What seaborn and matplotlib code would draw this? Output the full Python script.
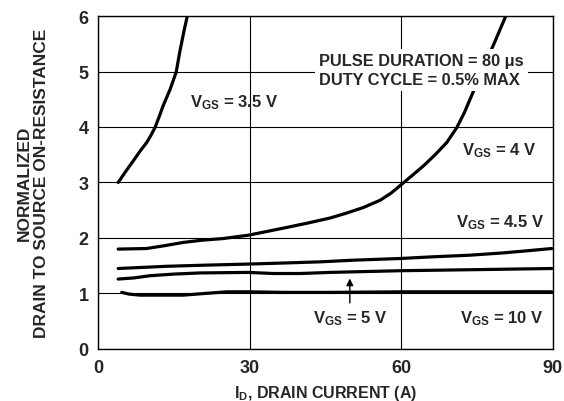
import numpy as np
import pandas as pd
import matplotlib
matplotlib.use("Agg")
import matplotlib.pyplot as plt
import seaborn as sns

# ---- data ----
id_35 = [3.9, 5.4, 6.9, 8.2, 9.55, 10.4, 11.2, 12.0, 12.8, 14.2, 15.4, 16.1, 16.9, 17.6]
rds_35 = [3.00, 3.20, 3.39, 3.56, 3.72, 3.85, 3.99, 4.18, 4.38, 4.68, 4.99, 5.35, 5.71, 6.00]

id_4 = [3.9, 9.5, 13.0, 16.8, 20.5, 24.7, 29.7, 33.5, 37.3, 41.5, 45.9, 49.2, 52.5, 55.8,
        58.0, 60.1, 62.2, 64.4, 66.7, 69.0, 71.0, 72.5, 73.9, 76.2, 78.6, 80.7]
rds_4 = [1.80, 1.81, 1.86, 1.92, 1.96, 1.99, 2.05, 2.12, 2.19, 2.27, 2.36, 2.45, 2.55, 2.68,
         2.81, 2.97, 3.13, 3.30, 3.50, 3.72, 3.99, 4.26, 4.56, 5.05, 5.55, 6.00]

id_45 = [3.9, 13.5, 21.0, 29.7, 37.0, 43.9, 50.5, 59.7, 66.0, 73.6, 80.0, 85.0, 89.8]
rds_45 = [1.45, 1.49, 1.51, 1.53, 1.55, 1.57, 1.60, 1.63, 1.66, 1.69, 1.73, 1.77, 1.81]

id_5 = [3.9, 7.0, 10.2, 15.0, 20.1, 29.7, 34.6, 40.0, 45.9, 59.7, 75.0, 89.8]
rds_5 = [1.26, 1.28, 1.32, 1.35, 1.37, 1.38, 1.36, 1.36, 1.38, 1.41, 1.43, 1.45]

id_10 = [4.6, 6.0, 8.2, 12.5, 16.8, 21.0, 25.4, 29.7, 37.0, 45.9, 60.0, 75.0, 89.8]
rds_10 = [1.02, 0.99, 0.97, 0.97, 0.97, 1.00, 1.03, 1.03, 1.02, 1.02, 1.03, 1.03, 1.03]

x_ticks = [0, 30, 60, 90]
y_ticks = [0, 1, 2, 3, 4, 5, 6]

sns.set_theme(style="white")
plt.rcParams['font.family'] = ['Liberation Sans', 'DejaVu Sans']
plt.rcParams['font.weight'] = 'bold'
plt.rcParams['mathtext.fontset'] = 'custom'
plt.rcParams['mathtext.bf'] = 'Liberation Sans:bold'
plt.rcParams['mathtext.rm'] = 'Liberation Sans:bold'
plt.rcParams['mathtext.it'] = 'Liberation Sans:bold'

fig = plt.figure(figsize=(5.64, 4.02), dpi=100)
ax = fig.add_axes([0.1746, 0.1294, 0.8054, 0.8283])

for xs, ys in [(id_35, rds_35), (id_4, rds_4), (id_45, rds_45), (id_5, rds_5), (id_10, rds_10)]:
    sns.lineplot(x=xs, y=ys, ax=ax, color='black', linewidth=2.3, sort=False,
                 estimator=None, zorder=3)

ax.set_xlim(0, 90)
ax.set_ylim(0, 6)
ax.set_xticks(x_ticks)
ax.set_yticks(y_ticks)
ax.tick_params(axis='both', length=0, labelsize=13, pad=7)
for lab in ax.get_xticklabels() + ax.get_yticklabels():
    lab.set_fontweight('bold')
ax.grid(True, color='black', linewidth=0.8)
for sp in ax.spines.values():
    sp.set_color('black')
    sp.set_linewidth(1.0)

ax.set_xlabel(r'I$_{\mathbf{D}}$, DRAIN CURRENT (A)', fontsize=11.5, fontweight='bold', labelpad=5)
ax.set_ylabel('NORMALIZED\nDRAIN TO SOURCE ON-RESISTANCE', fontsize=12.5,
              fontweight='bold', labelpad=21, linespacing=1.2)

lbl = dict(fontsize=12, fontweight='bold', va='center', ha='left', zorder=5)
ax.text(18.1, 4.45, r'V$_{\mathbf{GS}}$ = 3.5 V', **lbl)
ax.text(72.0, 3.6, r'V$_{\mathbf{GS}}$ = 4 V', **lbl)
ax.text(70.8, 2.29, r'V$_{\mathbf{GS}}$ = 4.5 V', **lbl)
ax.text(42.6, 0.57, r'V$_{\mathbf{GS}}$ = 5 V', **lbl)
ax.text(71.6, 0.57, r'V$_{\mathbf{GS}}$ = 10 V', **lbl)
ax.text(43.7, 5.03, 'PULSE DURATION = 80 μs\nDUTY CYCLE = 0.5% MAX', fontsize=11.8,
        fontweight='bold', va='center', ha='left', linespacing=1.35, zorder=5,
        bbox=dict(facecolor='white', edgecolor='none', pad=3))

ax.annotate('', xy=(49.8, 1.32), xytext=(49.8, 0.78),
            arrowprops=dict(arrowstyle='-|>', color='black', lw=1.0,
                            mutation_scale=10), zorder=5)

plt.savefig('out.png', dpi=100)
